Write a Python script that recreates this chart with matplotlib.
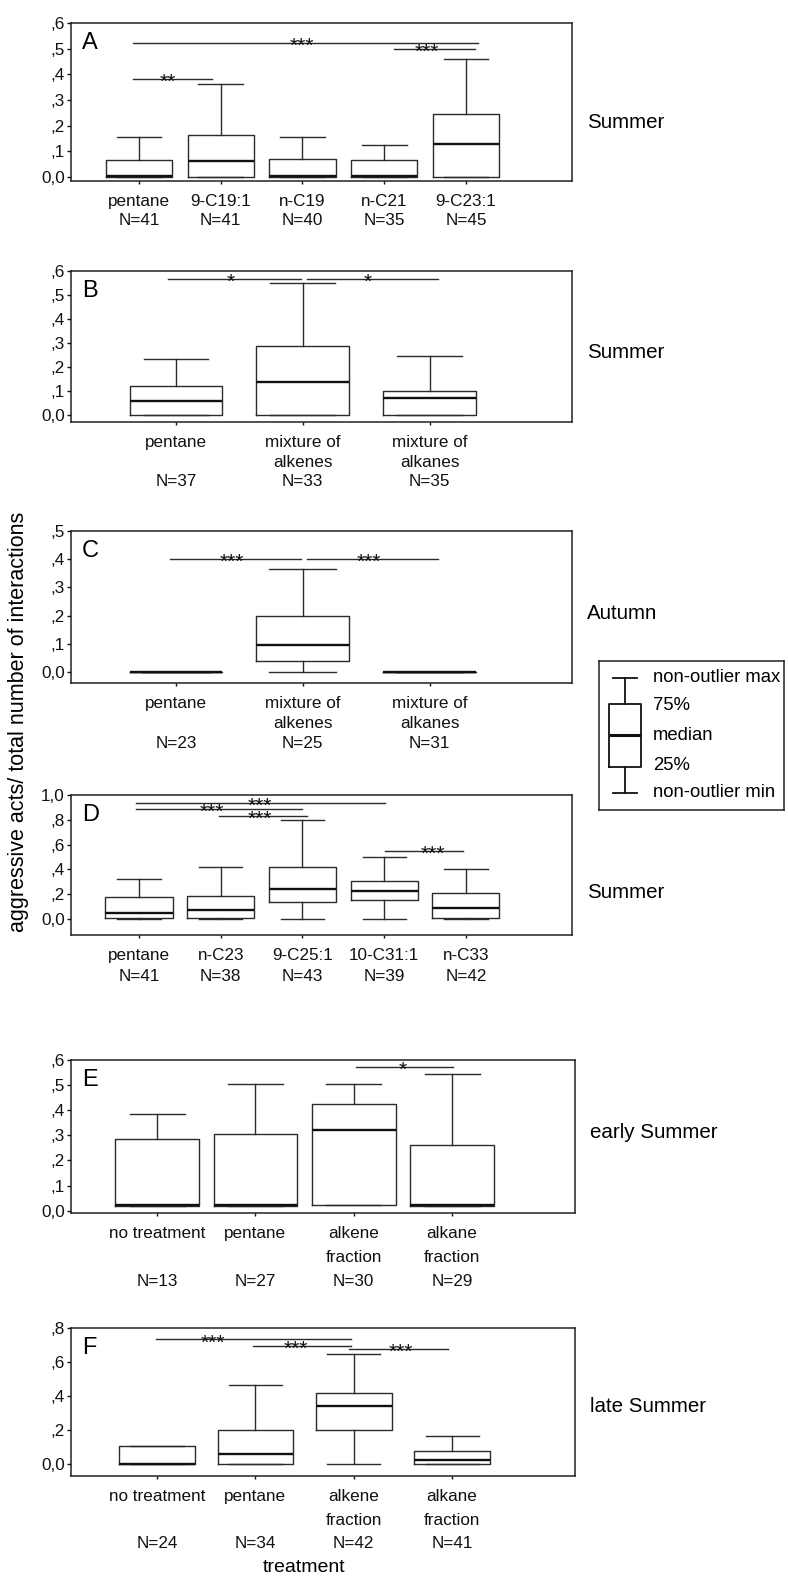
import matplotlib
matplotlib.use("Agg")
import matplotlib.pyplot as plt

plt.rcParams['font.family'] = ['Liberation Sans', 'DejaVu Sans']

W, H = 788, 1577

# ---- data ----
A_labels = ['pentane\nN=41', '9-C19:1\nN=41', 'n-C19\nN=40', 'n-C21\nN=35', '9-C23:1\nN=45']
A_min = [0, 0, 0, 0, 0]
A_q1 = [0, 0, 0, 0, 0]
A_med = [0.003, 0.063, 0.002, 0.002, 0.128]
A_q3 = [0.066, 0.162, 0.070, 0.066, 0.244]
A_max = [0.156, 0.364, 0.156, 0.125, 0.459]
A_sig = [(-0.07, 4.15, 0.524, '***', 1.99),
         (3.12, 4.11, 0.499, '***', 3.52),
         (-0.07, 0.89, 0.382, '**', 0.35)]

B_labels = ['pentane\n\nN=37', 'mixture of\nalkenes\nN=33', 'mixture of\nalkanes\nN=35']
B_min = [0, 0, 0]
B_q1 = [0, 0, 0]
B_med = [0.059, 0.139, 0.073]
B_q3 = [0.119, 0.286, 0.101]
B_max = [0.232, 0.548, 0.247]
B_sig = [(-0.06, 0.99, 0.567, '*', 0.43),
         (1.03, 2.07, 0.567, '*', 1.51)]

C_labels = ['pentane\n\nN=23', 'mixture of\nalkenes\nN=25', 'mixture of\nalkanes\nN=31']
C_min = [0, 0, 0]
C_q1 = [0, 0.039, 0]
C_med = [0, 0.095, 0]
C_q3 = [0, 0.200, 0]
C_max = [0, 0.365, 0]
C_sig = [(-0.05, 0.99, 0.402, '***', 0.44),
         (1.03, 2.07, 0.400, '***', 1.52)]

D_labels = ['pentane\nN=41', 'n-C23\nN=38', '9-C25:1\nN=43', '10-C31:1\nN=39', 'n-C33\nN=42']
D_min = [0, 0, 0, 0, 0]
D_q1 = [0.004, 0.004, 0.135, 0.150, 0.004]
D_med = [0.045, 0.069, 0.240, 0.229, 0.085]
D_q3 = [0.176, 0.182, 0.418, 0.304, 0.206]
D_max = [0.319, 0.422, 0.801, 0.503, 0.405]
D_sig = [(-0.04, 3.01, 0.938, '***', 1.48),
         (-0.04, 1.99, 0.886, '***', 0.89),
         (0.98, 2.06, 0.833, '***', 1.48),
         (3.01, 3.96, 0.546, '***', 3.60)]

E_labels = ['no treatment\n\nN=13', 'pentane\n\nN=27', 'alkene\nfraction\nN=30', 'alkane\nfraction\nN=29']
E_min = [0.017, 0.017, 0.021, 0.017]
E_q1 = [0.017, 0.017, 0.021, 0.017]
E_med = [0.021, 0.021, 0.320, 0.022]
E_q3 = [0.287, 0.305, 0.424, 0.261]
E_max = [0.384, 0.505, 0.505, 0.543]
E_sig = [(2.02, 3.01, 0.571, '*', 2.50)]

F_labels = ['no treatment\n\nN=24', 'pentane\n\nN=34', 'alkene\nfraction\nN=42', 'alkane\nfraction\nN=41']
F_min = [0, 0, 0, 0]
F_q1 = [0, 0, 0.198, 0]
F_med = [0.002, 0.061, 0.339, 0.025]
F_q3 = [0.108, 0.200, 0.420, 0.078]
F_max = [0.108, 0.465, 0.649, 0.165]
F_sig = [(-0.01, 1.97, 0.733, '***', 0.57),
         (0.98, 1.97, 0.694, '***', 1.41),
         (1.95, 2.96, 0.676, '***', 2.48)]

seasons = ['Summer', 'Summer', 'Autumn', 'Summer', 'early Summer', 'late Summer']
letters = ['A', 'B', 'C', 'D', 'E', 'F']

legend_labels = ['non-outlier max', '75%', 'median', '25%', 'non-outlier min']
legend_levels = [4.0, 3.05, 2.0, 0.95, 0.0]

# ---- layout: top px, bottom px, right px, ylim, yticks, xlim, box width, cap width, linespacing, season y px
panels = [
    (A_labels, A_min, A_q1, A_med, A_q3, A_max, A_sig,
     23, 181, 572, (-0.0156, 0.6), [0, .1, .2, .3, .4, .5, .6], (-0.832, 5.297), 0.81, 0.55, 1.3, 122),
    (B_labels, B_min, B_q1, B_med, B_q3, B_max, B_sig,
     271, 422, 572, (-0.029, 0.6), [0, .1, .2, .3, .4, .5, .6], (-0.828, 3.124), 0.73, 0.51, 1.38, 352),
    (C_labels, C_min, C_q1, C_med, C_q3, C_max, C_sig,
     531, 683, 572, (-0.039, 0.5), [0, .1, .2, .3, .4, .5], (-0.828, 3.124), 0.73, 0.53, 1.42, 613),
    (D_labels, D_min, D_q1, D_med, D_q3, D_max, D_sig,
     795, 935, 572, (-0.13, 1.0), [0, .2, .4, .6, .8, 1.0], (-0.832, 5.297), 0.82, 0.53, 1.45, 892),
    (E_labels, E_min, E_q1, E_med, E_q3, E_max, E_sig,
     1060, 1213, 575, (-0.009, 0.6), [0, .1, .2, .3, .4, .5, .6], (-0.875, 4.25), 0.85, 0.56, 1.75, 1132),
    (F_labels, F_min, F_q1, F_med, F_q3, F_max, F_sig,
     1328, 1476, 575, (-0.07, 0.8), [0, .2, .4, .6, .8], (-0.875, 4.25), 0.77, 0.54, 1.7, 1407),
]

LC = '#2b2b2b'


def fmt_tick(v):
    s = f"{v:.1f}".replace('.', ',')
    if 0 < v < 1:
        s = s[1:]
    return s


fig = plt.figure(figsize=(W / 100, H / 100), dpi=100)

for i, p in enumerate(panels):
    (labels, vmin, q1, med, q3, vmax, sig, top, bottom, right,
     ylim, yticks, xlim, bw, cw, lsp, sy) = p
    ax = fig.add_axes([71 / W, 1 - bottom / H, (right - 71) / W, (bottom - top) / H])
    stats = []
    for j in range(len(labels)):
        stats.append(dict(whislo=vmin[j], q1=q1[j], med=med[j], q3=q3[j], whishi=vmax[j], fliers=[]))
    pos = list(range(len(labels)))
    ax.bxp(stats, positions=pos, widths=bw, capwidths=cw, showfliers=False, manage_ticks=False,
           boxprops=dict(color=LC, linewidth=1.0),
           whiskerprops=dict(color=LC, linewidth=1.0),
           capprops=dict(color=LC, linewidth=1.0),
           medianprops=dict(color='#111111', linewidth=1.7, solid_capstyle='butt'))
    for x1, x2, y, stars, xs in sig:
        ax.plot([x1, x2], [y, y], color=LC, linewidth=1.0)
        ax.annotate(stars, xy=(xs, y), xytext=(0, -6.5), textcoords='offset points',
                    ha='center', va='baseline', fontsize=15, color='#111111')
    ax.set_xlim(*xlim)
    ax.set_ylim(*ylim)
    ax.set_xticks(pos)
    ax.set_xticklabels(labels, fontsize=12.3, linespacing=lsp, ha='center', va='top')
    ax.set_yticks(yticks)
    ax.set_yticklabels([fmt_tick(v) for v in yticks], fontsize=12.3)
    ax.tick_params(axis='x', length=2.5, width=1.0, pad=7, colors='#111111')
    ax.tick_params(axis='y', length=3, width=1.0, pad=1.5, colors='#111111')
    for sp in ax.spines.values():
        sp.set_linewidth(1.1)
        sp.set_color('#222222')
    ax.annotate(letters[i], xy=(0, 1), xycoords='axes fraction', xytext=(8, -14.5),
                textcoords='offset points', ha='left', va='center', fontsize=17)
    fig.text((right + 15) / W, 1 - sy / H, seasons[i], fontsize=14.8, ha='left', va='center')

fig.text(19 / W, 1 - 722 / H, 'aggressive acts/ total number of interactions',
         rotation=90, ha='center', va='center', fontsize=15.5)
fig.text(304 / W, 1 - 1568 / H, 'treatment', ha='center', va='center', fontsize=14)

# ---- legend box ----
lax = fig.add_axes([599 / W, 1 - 810 / H, (784 - 599) / W, (810 - 661) / H])
lax.set_xlim(0, 185)
lax.set_ylim(-0.6, 4.58)
leg_stats = [dict(whislo=legend_levels[4], q1=0.9, med=legend_levels[2], q3=3.1,
                  whishi=legend_levels[0], fliers=[])]
lax.bxp(leg_stats, positions=[26], widths=32, capwidths=24, showfliers=False, manage_ticks=False,
        boxprops=dict(color='#111111', linewidth=1.3),
        whiskerprops=dict(color='#111111', linewidth=1.3),
        capprops=dict(color='#111111', linewidth=1.3),
        medianprops=dict(color='#111111', linewidth=2.2))
for lab, lv in zip(legend_labels, legend_levels):
    lax.text(54, lv, lab, fontsize=13.3, ha='left', va='center')
lax.set_xticks([])
lax.set_yticks([])
for sp in lax.spines.values():
    sp.set_linewidth(1.1)
    sp.set_color('#222222')

fig.savefig('out.png', dpi=100)
